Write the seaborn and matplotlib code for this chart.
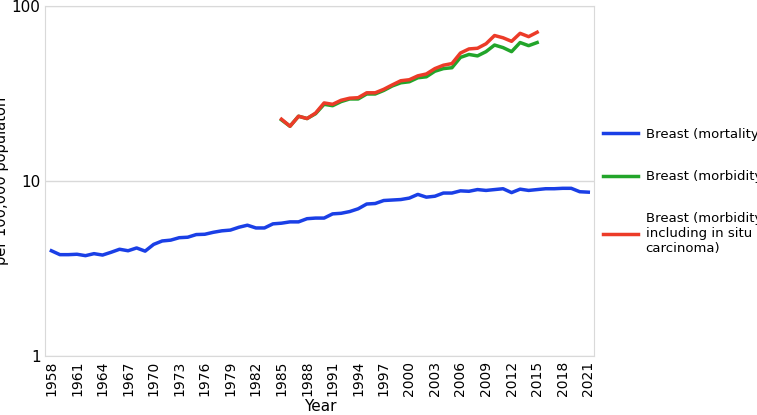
import matplotlib
matplotlib.use("Agg")
import matplotlib.pyplot as plt
import seaborn as sns
import pandas as pd

years_mort = list(range(1958, 2022))
mortality = [4.0,3.8,3.8,3.82,3.75,3.85,3.78,3.92,4.08,4.0,4.15,3.98,4.35,4.55,4.6,4.75,4.78,4.95,4.97,5.1,
             5.2,5.25,5.45,5.6,5.4,5.4,5.7,5.75,5.85,5.85,6.1,6.15,6.15,6.5,6.55,6.7,6.95,7.4,7.45,7.75,
             7.8,7.85,8.0,8.4,8.1,8.2,8.55,8.55,8.8,8.75,8.95,8.85,8.95,9.05,8.6,9.0,8.85,8.95,9.05,9.05,
             9.1,9.1,8.7,8.65]
years_morb = list(range(1985, 2016))
morbidity = [22.4,20.6,23.5,22.8,24.3,27.5,27.0,28.5,29.5,29.5,31.5,31.5,33,35,36.5,37,39,39.5,42.5,44,44.5,
             51,53,52,55,60,58,55,62,59.5,62]
morbidity_insitu = [22.6,20.6,23.5,22.8,24.5,28,27.5,29,29.8,30,32,32,33.5,35.5,37.5,38,40,41,44,46,47,
                    54,57,57.5,61,68,66,63,70,67,71]

df = pd.concat([
    pd.DataFrame({"Year": years_mort, "v": mortality, "s": "Breast (mortality)"}),
    pd.DataFrame({"Year": years_morb, "v": morbidity, "s": "Breast (morbidity)"}),
    pd.DataFrame({"Year": years_morb, "v": morbidity_insitu, "s": "Breast (morbidity\nincluding in situ\ncarcinoma)"}),
])
pal = ["#1a3fe6", "#22a52a", "#ec3b28"]

fig = plt.figure(figsize=(7.57, 4.15), dpi=100)
ax = fig.add_axes([0.060, 0.142, 0.725, 0.843])
sns.lineplot(data=df, x="Year", y="v", hue="s", palette=pal, linewidth=2.5, ax=ax)
ax.set_yscale("log")
ax.set_ylim(1, 100)
ax.set_xlim(1957.3, 2021.7)
ax.set_yticks([1, 10, 100])
ax.set_yticklabels(["1", "10", "100"])
ax.minorticks_off()
ax.set_xticks(list(range(1958, 2022, 3)))
ax.tick_params(axis="x", rotation=90, labelsize=10, length=0)
ax.tick_params(axis="y", labelsize=11, length=0)
ax.grid(axis="y", color="#d9d9d9", linewidth=1)
for sp in ax.spines.values():
    sp.set_color("#d9d9d9")
ax.set_xlabel("Year", fontsize=11, labelpad=2)
ax.set_ylabel("per 100,000 populaton", fontsize=10.5, labelpad=2)
ax.legend(title=None, loc="center left", bbox_to_anchor=(1.0, 0.47), frameon=False,
          fontsize=9.5, labelspacing=2.2, handlelength=2.6, borderaxespad=0.3, handletextpad=0.6)
fig.savefig("out.png", dpi=100)
